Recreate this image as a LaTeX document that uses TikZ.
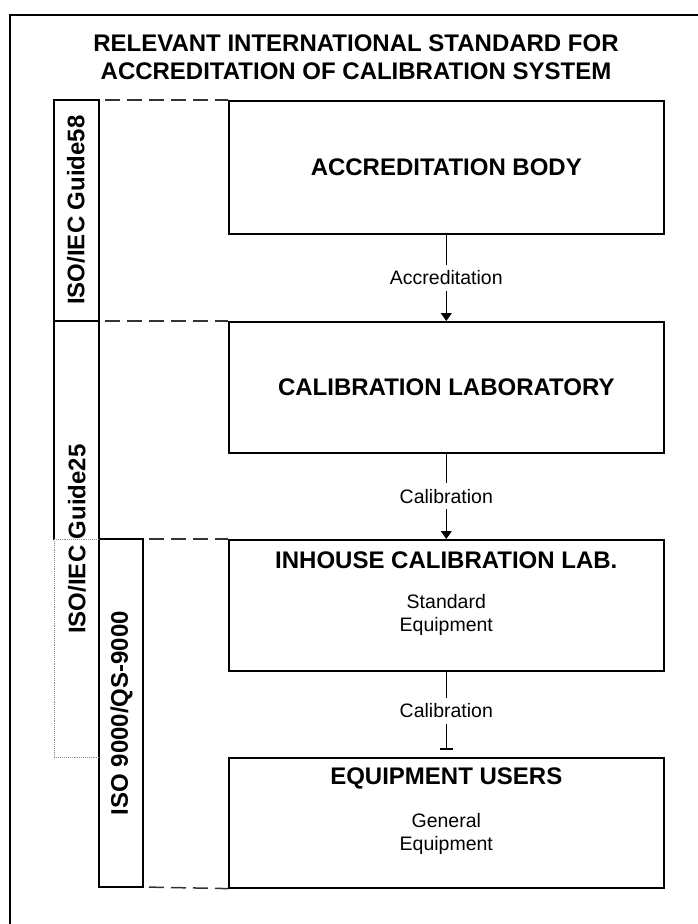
\documentclass[tikz,border=0pt]{standalone}
\usepackage{fontspec}
\setmainfont{Liberation Sans}
\usetikzlibrary{arrows.meta,calc}
\begin{document}
\begin{tikzpicture}[x=1pt,y=-1pt,
  frame/.style={line width=1.6pt, line cap=rect},
  faint/.style={line width=0.9pt, densely dotted, black!45},
  leader/.style={line width=1.5pt, dash pattern=on 15pt off 7pt, dash phase=-6pt, black!80},
  stagebox/.style={draw, line width=1.6pt, minimum width=435pt, minimum height=#1,
                   anchor=north west, inner sep=0pt},
  headtxt/.style={font=\fontsize{24}{28}\selectfont\bfseries, inner sep=0pt, align=center},
  smalltxt/.style={font=\fontsize{19.5}{23}\selectfont, inner sep=0pt, align=center},
  bandtxt/.style={font=\fontsize{24}{28}\selectfont\bfseries, inner sep=0pt, rotate=90},
  conn/.style={line width=0.9pt},
  lbl/.style={font=\fontsize{19.5}{23}\selectfont, fill=white, inner xsep=2pt, inner ysep=6pt}]

\useasboundingbox (0,0) rectangle (697,924);

% outer frame (runs off the page on the right and bottom)
\draw[frame] (10,930) -- (10,15) -- (705,15);

% title
\node[headtxt] (title) at (356,57)
  {RELEVANT INTERNATIONAL STANDARD FOR\\ACCREDITATION OF CALIBRATION SYSTEM};

% stage boxes
\node[stagebox=133pt] (b1) at (228,100) {};
\node[stagebox=131pt] (b2) at (228,321) {};
\node[stagebox=131pt] (b3) at (228,539) {};
\node[stagebox=130pt] (b4) at (228,757) {};

\node[headtxt] (t1) at (b1.center) {ACCREDITATION BODY};
\node[headtxt] (t2) at (b2.center) {CALIBRATION LABORATORY};
\node[headtxt] (t3) at ($(b3.north)+(0,21)$) {INHOUSE CALIBRATION LAB.};
\node[smalltxt] (s3) at ($(b3.north)+(0,76)$) {Standard\\Equipment};
\node[headtxt] (t4) at ($(b4.north)+(0,21)$) {EQUIPMENT USERS};
\node[smalltxt] (s4) at ($(b4.north)+(0,77)$) {General\\Equipment};

% standards bands on the left
\coordinate (g58nw) at (54,100);
\coordinate (g58ne) at (99,100);
\coordinate (g25nw) at (54,321);
\coordinate (g25ne) at (99,321);
\coordinate (g25mid) at (54,539);
\coordinate (g25sw) at (54,757);
\coordinate (g25se) at (99,757);
\coordinate (isonw) at (99,539);
\coordinate (isone) at (143,539);
\coordinate (isosw) at (99,887);
\coordinate (isose) at (143,887);

\draw[frame] (g58ne) -- (g58nw) -- (g25mid);
\draw[frame] (g25nw) -- (g25ne);
\draw[frame] (g58ne) -- (isosw) -- (isose) -- (isone) -- (isonw);
\draw[faint] (g25mid) -- (g25sw) -- (g25se);
\draw[faint] (g25mid) -- (isonw);

\node[bandtxt] (l58) at (76,210) {ISO/IEC Guide58};
\node[bandtxt] (l25) at (77,539) {ISO/IEC Guide25};
\node[bandtxt] (l9000) at (121.5,713) {ISO 9000/QS-9000};

% dashed leaders from the bands to the boxes
\draw[leader] (g58ne) -- (b1.north west);
\draw[leader] (g25ne) -- (b2.north west);
\draw[leader] (isone) -- (b3.north west);
\draw[leader] (isose) -- (b4.south west);

% connectors between the stages
\coordinate (b4stop) at ($(b4.north)+(0,-7)$);
\draw[conn, -{Triangle[width=11pt,length=8pt]}] (b1.south) -- node[lbl] {Accreditation} (b2.north);
\draw[conn, -{Triangle[width=11pt,length=8pt]}] (b2.south) -- node[lbl] {Calibration} (b3.north);
\draw[conn, -{Bar[width=13pt,line width=1.6pt]}] (b3.south) -- node[lbl] {Calibration} (b4stop);
\end{tikzpicture}
\end{document}
